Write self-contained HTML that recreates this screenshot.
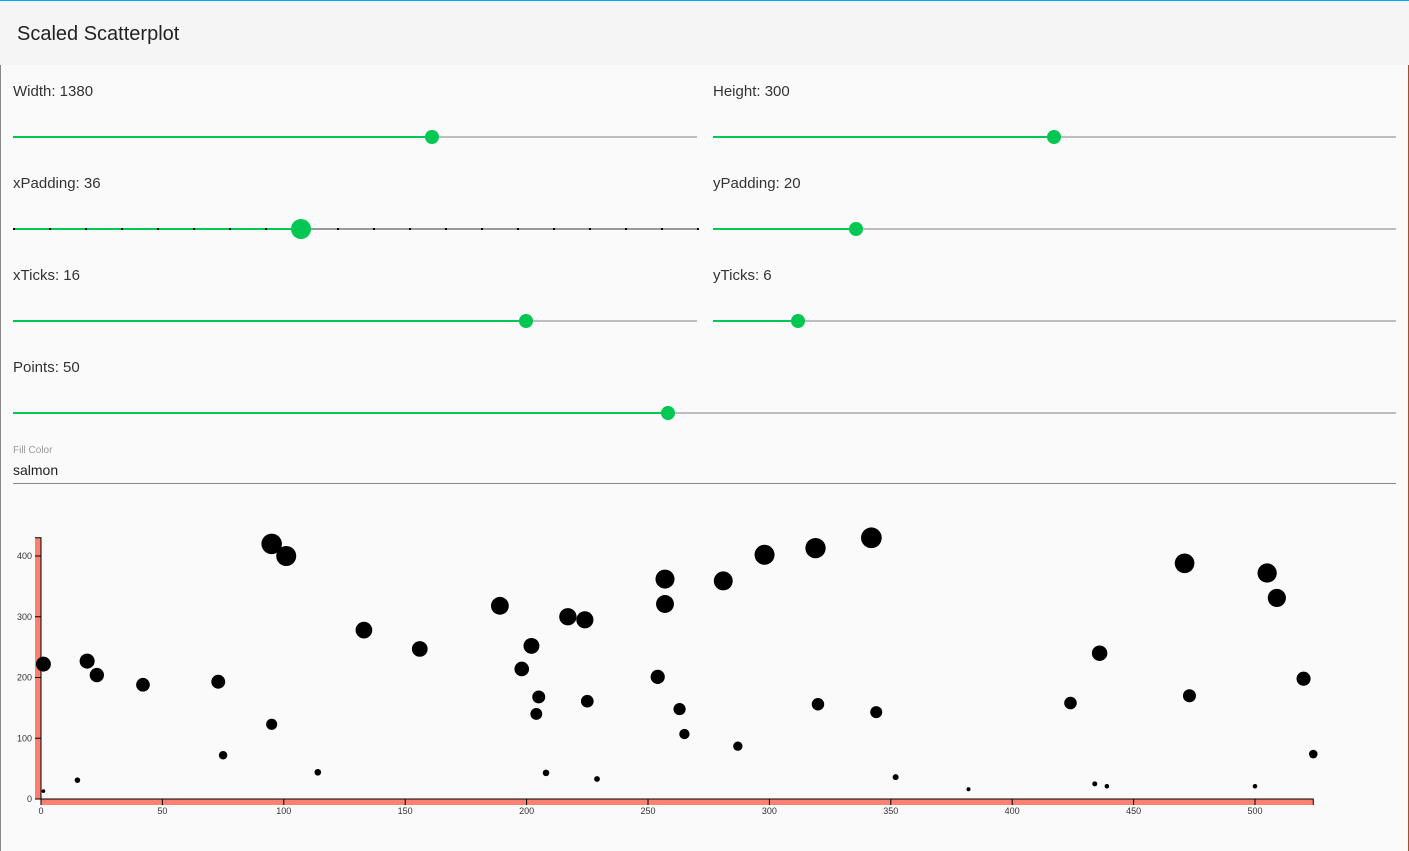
<!DOCTYPE html>
<html><head><meta charset="utf-8">
<style>
body{margin:0;width:1409px;height:851px;background:#fafafa;font-family:"Liberation Sans",sans-serif;overflow:hidden;position:relative;color:#222}
.hdr{position:absolute;left:0;top:0;width:1409px;height:65px;background:#f5f5f5;border-top:1px solid #03a9f4;box-sizing:border-box}
.hdr span{position:absolute;left:17px;top:22px;font-size:20px;color:#222}
.lbl{position:absolute;font-size:15px;color:#333}
.trk{position:absolute;height:2px;background:#bdbdbd}
.fill{position:absolute;height:2px;background:#00c853}
.th{position:absolute;border-radius:50%;background:#00c853}
.edge{position:absolute;top:0;height:851px;width:1px}
</style></head><body>
<div class="edge" style="left:0;background:#888"></div>
<div class="edge" style="left:1408px;background:#a0522d"></div>
<div class="hdr"><span>Scaled Scatterplot</span></div>
<div id="ctrls"></div>
<div class="lbl" style="left:13px;top:445px;font-size:10px;color:#999">Fill Color</div>
<div class="lbl" style="left:13px;top:462px;font-size:14px;color:#222">salmon</div>
<div style="position:absolute;left:13px;top:483px;width:1383px;height:1px;background:#888"></div>
<svg id="chart" style="position:absolute;left:0;top:0" width="1409" height="851"></svg>
<script>
const sliders=[["Width: 1380",13,697,90,432,false],["Height: 300",713,1396,90,1054,false],["xPadding: 36",13,697,182,301,true],["yPadding: 20",713,1396,182,856,false],["xTicks: 16",13,697,274,526,false],["yTicks: 6",713,1396,274,798,false],["Points: 50",13,1396,366,668,false]];
const c=document.getElementById('ctrls');
sliders.forEach(s=>{
 const [t,x0,x1,ly,tx,big]=s;const ty=ly+47;
 const d=document.createElement('div');d.className='lbl';d.style.left=x0+'px';d.style.top=(ly-7)+'px';d.textContent=t;
 
 c.appendChild(d);
 const tr=document.createElement('div');tr.className='trk';tr.style.cssText=`left:${x0}px;top:${ty-1}px;width:${x1-x0}px;${big?'background:#999':''}`;
 
 c.appendChild(tr);
 const f=document.createElement('div');f.className='fill';f.style.cssText=`left:${x0}px;top:${ty-1}px;width:${tx-x0}px`;
 
 c.appendChild(f);
 if(big){for(let x=x0;x<=x1;x+=36){const k=document.createElement('div');k.style.cssText=`position:absolute;left:${x}px;top:${ty-1}px;width:2px;height:2px;background:#000`;
 
 c.appendChild(k);}}
 const r=big?10:7;const h=document.createElement('div');h.className='th';h.style.cssText=`left:${tx-r}px;top:${ty-r}px;width:${2*r}px;height:${2*r}px`;
 
 c.appendChild(h);
});
</script>
<script>
const xs=[1,15,1,19,23,42,73,75,95,101,95,114,133,156,189,198,202,205,204,208,217,224,225,229,254,257,257,263,265,281,287,298,319,320,342,344,352,382,424,436,434,439,471,473,505,509,520,524,500];
const ys=[222,31,13,227,204,188,193,72,420,400,123,44,278,247,318,214,252,168,140,43,300,295,161,33,201,362,321,148,107,359,87,402,413,156,430,143,36,16,158,240,25,21,388,170,372,331,198,74,21];
const xTicks=[0,50,100,150,200,250,300,350,400,450,500];
const yTicks=[0,100,200,300,400];
const xMax=524,yMax=430;
const X=v=>41+v*(1255-41)/500, Y=v=>799-v*(799-556)/400;
const NS='http://www.w3.org/2000/svg',svg=document.getElementById('chart');
function mk(t,a){const e=document.createElementNS(NS,t);for(const k in a)e.setAttribute(k,a[k]);svg.appendChild(e);return e;}
let e;
e=mk('rect',{x:35,y:Y(yMax),width:6,height:799-Y(yMax),fill:'salmon'});


e=mk('rect',{x:41,y:799,width:X(xMax)-41,height:6,fill:'salmon'});


e=mk('path',{d:`M35,${Y(yMax)}H41V799H35`,stroke:'#000',fill:'none'});


e=mk('path',{d:`M41,805V799H${X(xMax)}V805`,stroke:'#000',fill:'none'});


xTicks.forEach(v=>{mk('line',{x1:X(v),x2:X(v),y1:799,y2:805,stroke:'#000'});
 e=mk('text',{x:X(v),y:814,'font-size':9,'text-anchor':'middle',fill:'#333'});e.textContent=v;
 
 });
yTicks.forEach(v=>{mk('line',{x1:35,x2:41,y1:Y(v),y2:Y(v),stroke:'#000'});
 e=mk('text',{x:32,y:Y(v)+3,'font-size':9,'text-anchor':'end',fill:'#333'});e.textContent=v;
 
 });
xs.forEach((v,i)=>{e=mk('circle',{cx:X(v),cy:Y(ys[i]),r:Math.sqrt(ys[i])/2,fill:'#000'});
 
 });
</script>
</body></html>
